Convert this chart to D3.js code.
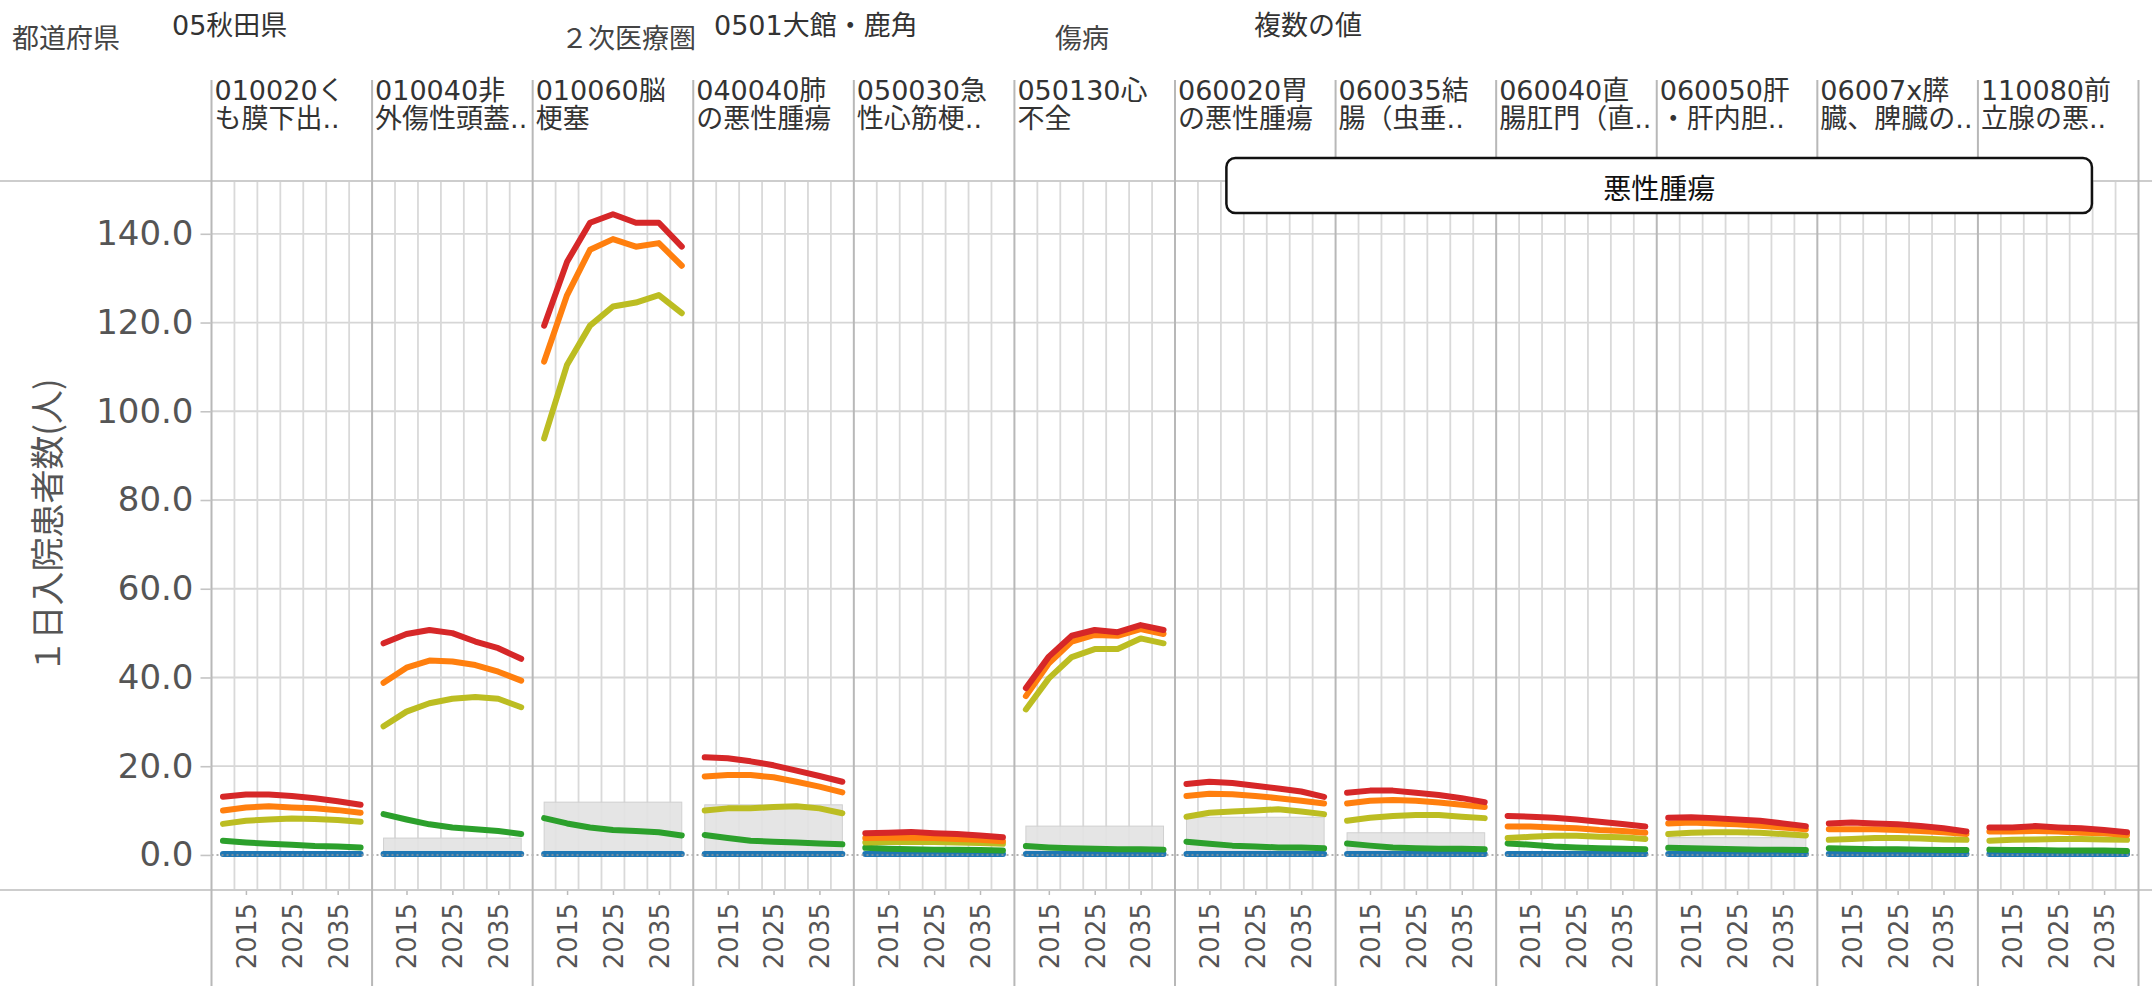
<!DOCTYPE html>
<html>
<head>
<meta charset="utf-8">
<script src="https://cdn.jsdelivr.net/npm/d3@7"></script>
<style>
  body { margin: 0; background: #fff; }
  svg { display: block; }
</style>
</head>
<body>
<div id="chart"></div>
<script>
// data
const years = [2010, 2015, 2020, 2025, 2030, 2035, 2040];
const tickYears = [2015, 2025, 2035];
const yTicks = [0, 20, 40, 60, 80, 100, 120, 140];

const filterLabels = ['都道府県', '２次医療圏', '傷病'];
const filterValues = ['05秋田県', '0501大館・鹿角', '複数の値'];

const panelLine1 = ['010020く', '010040非', '010060脳', '040040肺', '050030急', '050130心',
  '060020胃', '060035結', '060040直', '060050肝', '06007x膵', '110080前'];
const panelLine2 = ['も膜下出..', '外傷性頭蓋..', '梗塞', 'の悪性腫瘍', '性心筋梗..', '不全',
  'の悪性腫瘍', '腸（虫垂..', '腸肛門（直..', '・肝内胆..', '臓、脾臓の..', '立腺の悪..'];

const annotationText = '悪性腫瘍';
const yTitle = '１日入院患者数(人)';

// one array of 7 yearly values per panel, per series
const redVals = [
  [13.1, 13.6, 13.6, 13.3, 12.8, 12.1, 11.3],
  [47.7, 49.8, 50.7, 50.0, 48.1, 46.6, 44.2],
  [119.3, 133.7, 142.5, 144.4, 142.5, 142.5, 137.1],
  [22.0, 21.8, 21.1, 20.2, 19.0, 17.8, 16.5],
  [4.9, 5.0, 5.2, 4.9, 4.7, 4.4, 4.0],
  [37.6, 44.7, 49.4, 50.7, 50.2, 51.8, 50.7],
  [16.0, 16.5, 16.2, 15.6, 15.0, 14.3, 13.1],
  [14.0, 14.5, 14.5, 14.0, 13.5, 12.8, 11.9],
  [8.8, 8.6, 8.4, 8.0, 7.5, 7.0, 6.4],
  [8.4, 8.5, 8.3, 8.0, 7.7, 7.1, 6.5],
  [7.1, 7.3, 7.1, 6.9, 6.5, 6.0, 5.3],
  [6.2, 6.2, 6.5, 6.2, 6.0, 5.6, 5.1]
];
const orangeVals = [
  [10.0, 10.7, 11.0, 10.7, 10.5, 10.1, 9.5],
  [38.8, 42.2, 43.8, 43.6, 42.8, 41.3, 39.3],
  [111.2, 126.2, 136.4, 138.8, 137.1, 137.9, 132.8],
  [17.7, 18.0, 18.0, 17.5, 16.5, 15.4, 14.1],
  [3.8, 3.9, 3.9, 3.8, 3.6, 3.4, 3.1],
  [35.8, 43.2, 48.1, 49.6, 49.4, 50.9, 49.8],
  [13.3, 13.8, 13.7, 13.3, 12.8, 12.2, 11.6],
  [11.6, 12.2, 12.4, 12.2, 11.8, 11.3, 10.8],
  [6.4, 6.4, 6.2, 6.0, 5.6, 5.4, 5.0],
  [7.1, 7.3, 7.1, 6.9, 6.6, 6.2, 5.8],
  [5.8, 5.8, 5.8, 5.6, 5.4, 5.1, 4.7],
  [5.3, 5.3, 5.4, 5.3, 5.0, 4.9, 4.5]
];
const oliveVals = [
  [7.0, 7.7, 8.0, 8.2, 8.1, 7.9, 7.5],
  [29.0, 32.3, 34.2, 35.2, 35.6, 35.2, 33.3],
  [93.9, 110.5, 119.3, 123.6, 124.5, 126.2, 122.1],
  [10.0, 10.5, 10.5, 10.8, 11.0, 10.5, 9.4],
  [2.8, 2.9, 2.9, 2.9, 2.8, 2.7, 2.5],
  [32.8, 39.8, 44.6, 46.4, 46.4, 48.8, 47.7],
  [8.6, 9.5, 9.8, 10.0, 10.3, 9.8, 9.2],
  [7.7, 8.4, 8.8, 9.0, 9.0, 8.6, 8.3],
  [3.8, 4.1, 4.3, 4.3, 4.1, 4.0, 3.6],
  [4.7, 5.0, 5.1, 5.1, 5.0, 4.7, 4.4],
  [3.4, 3.6, 3.8, 3.8, 3.7, 3.5, 3.4],
  [3.2, 3.4, 3.5, 3.6, 3.6, 3.5, 3.4]
];
const greenVals = [
  [3.2, 2.8, 2.5, 2.3, 2.0, 1.9, 1.7],
  [9.2, 8.0, 6.9, 6.2, 5.8, 5.4, 4.7],
  [8.3, 7.1, 6.2, 5.6, 5.4, 5.1, 4.4],
  [4.5, 3.8, 3.2, 3.0, 2.8, 2.6, 2.4],
  [1.6, 1.4, 1.3, 1.2, 1.2, 1.1, 1.0],
  [2.0, 1.7, 1.5, 1.4, 1.3, 1.3, 1.2],
  [3.0, 2.5, 2.1, 1.9, 1.7, 1.7, 1.5],
  [2.6, 2.1, 1.7, 1.5, 1.4, 1.4, 1.3],
  [2.6, 2.3, 1.9, 1.7, 1.5, 1.4, 1.3],
  [1.6, 1.5, 1.4, 1.3, 1.2, 1.2, 1.1],
  [1.5, 1.4, 1.3, 1.3, 1.2, 1.1, 1.1],
  [1.2, 1.1, 1.1, 1.0, 1.0, 1.0, 0.9]
];
const blueVals = [
  [0.2, 0.2, 0.2, 0.2, 0.2, 0.2, 0.2],
  [0.2, 0.2, 0.2, 0.2, 0.2, 0.2, 0.2],
  [0.2, 0.2, 0.2, 0.2, 0.2, 0.2, 0.2],
  [0.2, 0.2, 0.2, 0.2, 0.2, 0.2, 0.2],
  [0.2, 0.2, 0.2, 0.2, 0.2, 0.2, 0.2],
  [0.2, 0.2, 0.2, 0.2, 0.2, 0.2, 0.2],
  [0.2, 0.2, 0.2, 0.2, 0.2, 0.2, 0.2],
  [0.2, 0.2, 0.2, 0.2, 0.2, 0.2, 0.2],
  [0.2, 0.2, 0.2, 0.2, 0.2, 0.2, 0.2],
  [0.2, 0.2, 0.2, 0.2, 0.2, 0.2, 0.2],
  [0.2, 0.2, 0.2, 0.2, 0.2, 0.2, 0.2],
  [0.2, 0.2, 0.2, 0.2, 0.2, 0.2, 0.2]
];
// grey reference band (0 .. top), null = none
const bandTops = [null, 3.8, 11.9, 11.3, null, 6.5, 8.5, 5.0, null, 3.9, null, null];

// bottom to top drawing order
const series = [
  { vals: blueVals, color: '#1f77b4' },
  { vals: greenVals, color: '#2ca02c' },
  { vals: oliveVals, color: '#bcbd22' },
  { vals: orangeVals, color: '#ff7f0e' },
  { vals: redVals, color: '#d62728' }
];

const W = 2152, H = 986;
const plotLeft = 211.5, plotRight = 2138.5, plotTop = 181, plotBottom = 890;
const fontLatin = '"DejaVu Sans", "Noto Sans CJK JP", sans-serif';

let svg = d3.select('#chart')
  .append('svg')
  .attr('width', W)
  .attr('height', H)
  .style('background-color', '#fff');

let xPanel = d3.scaleBand()
  .domain(d3.range(panelLine1.length))
  .range([plotLeft, plotRight]);
let bw = xPanel.bandwidth();

let xYear = d3.scalePoint()
  .domain(years)
  .range([0, bw])
  .padding(0.5);

let y = d3.scaleLinear()
  .domain([-7.9, 151.9])
  .range([plotBottom, plotTop]);

// horizontal gridlines
svg.append('g')
  .selectAll('line')
  .data(yTicks.filter(d => d !== 0))
  .enter().append('line')
    .attr('x1', plotLeft).attr('x2', plotRight)
    .attr('y1', d => y(d)).attr('y2', d => y(d))
    .attr('stroke', '#d6d6d6')
    .attr('stroke-width', 1.8);

// panels
let panels = svg.append('g')
  .selectAll('g')
  .data(d3.range(panelLine1.length))
  .enter().append('g')
    .attr('transform', d => 'translate(' + xPanel(d) + ',0)');

// vertical gridlines between year cells
panels.selectAll('line.vg')
  .data(d3.range(1, years.length))
  .enter().append('line')
    .attr('class', 'vg')
    .attr('x1', d => d * bw / years.length).attr('x2', d => d * bw / years.length)
    .attr('y1', plotTop).attr('y2', plotBottom)
    .attr('stroke', '#d9d9d9')
    .attr('stroke-width', 1.8);

// reference bands
panels.filter(d => bandTops[d] != null)
  .append('rect')
    .attr('x', xYear(years[0]))
    .attr('width', xYear(years[years.length - 1]) - xYear(years[0]))
    .attr('y', d => y(bandTops[d]))
    .attr('height', d => y(0) - y(bandTops[d]))
    .attr('fill', '#e2e2e2')
    .attr('fill-opacity', 0.9)
    .attr('stroke', '#d0d0d0')
    .attr('stroke-width', 1);

// zero line
svg.append('line')
  .attr('x1', plotLeft).attr('x2', plotRight)
  .attr('y1', y(0)).attr('y2', y(0))
  .attr('stroke', '#999')
  .attr('stroke-width', 1.5)
  .attr('stroke-dasharray', '2,3');

// frame lines
svg.append('line')
  .attr('x1', 0).attr('x2', W)
  .attr('y1', plotTop).attr('y2', plotTop)
  .attr('stroke', '#cdcdcd').attr('stroke-width', 1.8);
svg.append('line')
  .attr('x1', 0).attr('x2', W)
  .attr('y1', plotBottom).attr('y2', plotBottom)
  .attr('stroke', '#cdcdcd').attr('stroke-width', 1.8);

// panel separators (run through the header and the year axis)
svg.append('g')
  .selectAll('line')
  .data(d3.range(panelLine1.length + 1))
  .enter().append('line')
    .attr('x1', d => plotLeft + d * bw).attr('x2', d => plotLeft + d * bw)
    .attr('y1', 80).attr('y2', H)
    .attr('stroke', '#b8b8b8')
    .attr('stroke-width', 2);

// lines
let line = d3.line()
  .x((d, i) => xYear(years[i]))
  .y(d => y(d));

series.forEach(s => {
  panels.append('path')
    .datum(d => s.vals[d])
    .attr('fill', 'none')
    .attr('stroke', s.color)
    .attr('stroke-width', 6)
    .attr('stroke-linejoin', 'round')
    .attr('stroke-linecap', 'round')
    .attr('d', line);
});

// y axis
let yAxis = svg.append('g')
  .attr('transform', 'translate(' + plotLeft + ',0)')
  .call(d3.axisLeft(y).tickValues(yTicks).tickFormat(d3.format('.1f')).tickSize(11).tickPadding(7));
yAxis.select('.domain').remove();
yAxis.selectAll('.tick line').attr('stroke', '#c4c4c4').attr('stroke-width', 1.6);
yAxis.selectAll('.tick text')
  .attr('fill', '#555')
  .style('font-family', fontLatin)
  .style('font-size', '34px');

svg.append('text')
  .attr('transform', 'translate(45,' + 526 + ') rotate(-90)')
  .attr('text-anchor', 'middle')
  .attr('dominant-baseline', 'central')
  .attr('fill', '#555')
  .style('font-family', '"Noto Sans CJK JP", sans-serif')
  .style('font-size', '34px')
  .text(yTitle);

// year axes
panels.each(function () {
  let ax = d3.select(this).append('g')
    .attr('transform', 'translate(0,' + plotBottom + ')')
    .call(d3.axisBottom(xYear).tickValues(tickYears).tickSize(5).tickPadding(0));
  ax.select('.domain').remove();
  ax.selectAll('.tick line').attr('stroke', '#bbb').attr('stroke-width', 1.5);
  ax.selectAll('.tick text')
    .attr('x', 0).attr('y', 0).attr('dy', '0.36em')
    .attr('transform', 'translate(0,13) rotate(-90)')
    .attr('text-anchor', 'end')
    .attr('fill', '#555')
    .style('font-family', fontLatin)
    .style('font-size', '26px');
});

// panel headers
panels.append('text')
  .attr('x', 3).attr('y', 100)
  .attr('fill', '#333')
  .style('font-family', fontLatin)
  .style('font-size', '27px')
  .text(d => panelLine1[d]);
panels.append('text')
  .attr('x', 3).attr('y', 128)
  .attr('fill', '#333')
  .style('font-family', fontLatin)
  .style('font-size', '27px')
  .text(d => panelLine2[d]);

// filter captions at the top
const labelPos = [[12, 48], [561, 48], [1055, 48]];
const valuePos = [[172, 35], [714, 35], [1254, 35]];
filterLabels.forEach((t, i) => {
  svg.append('text')
    .attr('x', labelPos[i][0]).attr('y', labelPos[i][1])
    .attr('fill', '#444')
    .style('font-family', fontLatin)
    .style('font-size', '27px')
    .text(t);
  svg.append('text')
    .attr('x', valuePos[i][0]).attr('y', valuePos[i][1])
    .attr('fill', '#333')
    .style('font-family', fontLatin)
    .style('font-size', '27px')
    .text(filterValues[i]);
});

// annotation box over the cancer panels
let boxL = xPanel(6) + 0.32 * bw, boxR = xPanel(11) + 0.71 * bw;
svg.append('rect')
  .attr('x', boxL).attr('y', 158)
  .attr('width', boxR - boxL).attr('height', 55)
  .attr('rx', 9)
  .attr('fill', '#fff')
  .attr('stroke', '#111')
  .attr('stroke-width', 2.5);
svg.append('text')
  .attr('x', (boxL + boxR) / 2).attr('y', 187)
  .attr('text-anchor', 'middle')
  .attr('dominant-baseline', 'central')
  .attr('fill', '#111')
  .style('font-family', '"Noto Sans CJK JP", sans-serif')
  .style('font-size', '28px')
  .text(annotationText);
</script>
</body>
</html>
